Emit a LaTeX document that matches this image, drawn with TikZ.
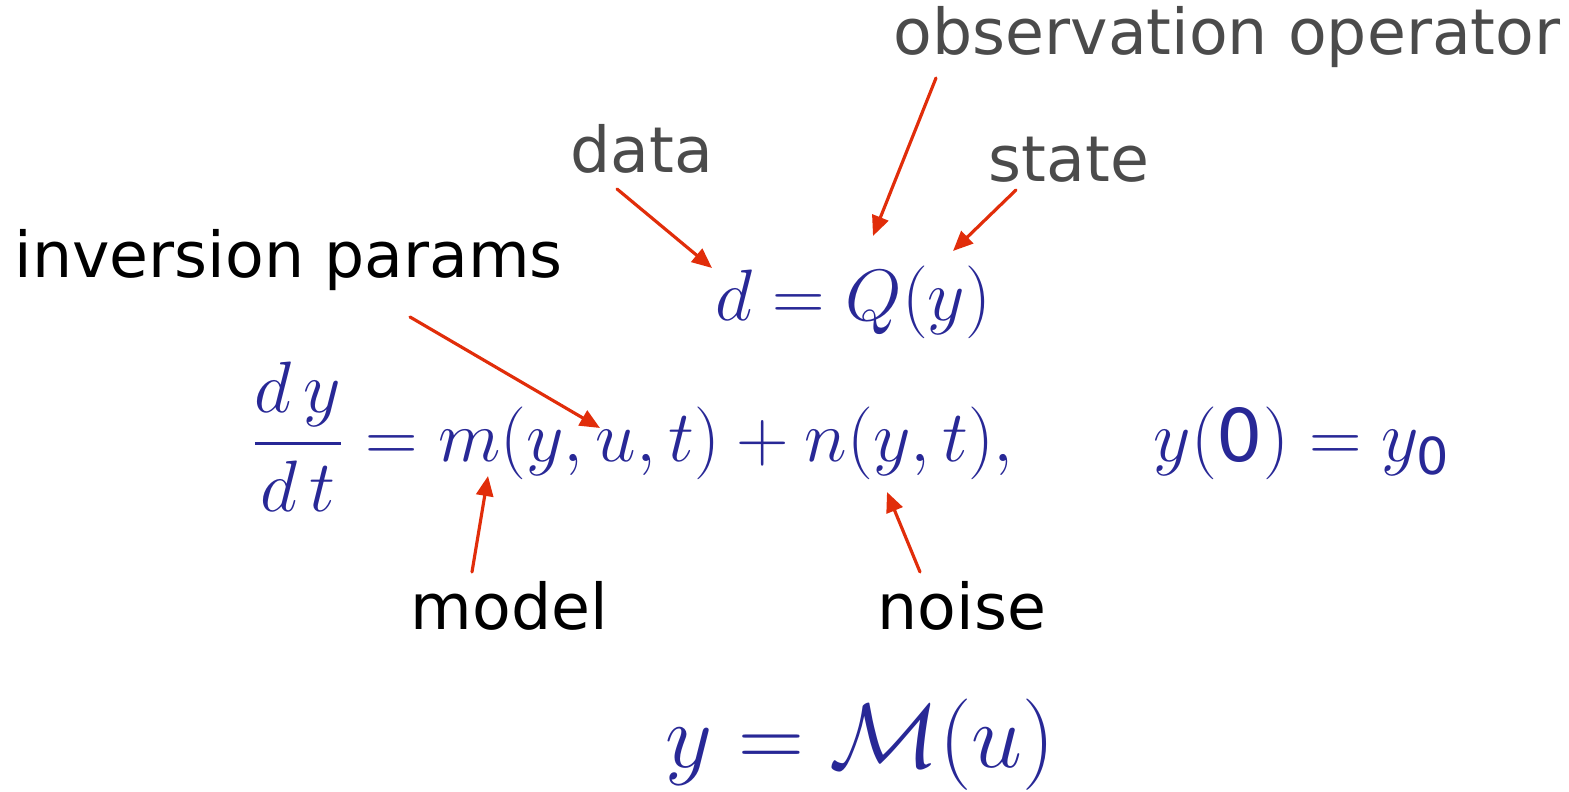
\RequirePackage{fix-cm}
\documentclass[tikz,border=0pt]{standalone}
\usepackage{amsmath}
\usepackage{fontspec}
\usetikzlibrary{arrows.meta}
\newfontfamily\labelfont{DejaVu Sans}
\definecolor{eqblue}{RGB}{40,40,150}
\definecolor{arrred}{RGB}{225,45,10}
\definecolor{labgray}{RGB}{75,75,75}
\tikzset{
  glabel/.style={font=\labelfont\fontsize{18}{22}\selectfont, text=labgray, inner sep=0pt},
  blabel/.style={font=\labelfont\fontsize{18}{22}\selectfont, text=black, inner sep=0pt},
  eqn/.style={font=\fontsize{20.7}{24}\selectfont, text=eqblue, inner sep=0pt},
  bigeqn/.style={font=\fontsize{26}{30}\selectfont, text=eqblue, inner sep=0pt},
  redarrow/.style={draw=arrred, line width=0.9pt, -{Triangle[length=0.2cm,width=0.17cm]}}
}
\begin{document}
\begin{tikzpicture}[x=0.01cm, y=-0.01cm, line join=round, line cap=round]
	\useasboundingbox (0,0) rectangle (1569,792);
	% --- Phương trình ---
	\node[eqn, anchor=base west] (obseq) at (715,321) {$d = Q(y)$};
	\node[eqn, anchor=base west] (modeleq) at (250,462) {$\dfrac{d\,y}{d\,t} = m(y,u,t) + n(y,t),$};
	\node[eqn, anchor=base west] (initeq) at (1153,462) {$y(\text{\labelfont 0}) = y_{\text{\labelfont 0}}$};
	\node[bigeqn, anchor=base west] (fwdeq) at (665,768) {$y = \mathcal{M}(u)$};
	% --- Nhãn ---
	\node[glabel, anchor=base west] (obsop) at (893,55) {observation operator};
	\node[glabel, anchor=base west] (data) at (570,173) {data};
	\node[glabel, anchor=base west] (state) at (988,182) {state};
	\node[blabel, anchor=base west] (inv) at (14,278) {inversion params};
	\node[blabel, anchor=base west] (model) at (410,630) {model};
	\node[blabel, anchor=base west] (noise) at (877,630) {noise};
	% --- Mũi tên ---
	\coordinate (dtip) at (712,268);
	\coordinate (qtip) at (873,236);
	\coordinate (ytip) at (953,251);
	\coordinate (utip) at (600,428);
	\coordinate (mtip) at (488,476);
	\coordinate (ntip) at (887,492);
	\draw[redarrow] ([shift={(47,16)}]data.base west) -- (dtip);
	\draw[redarrow] ([shift={(43,23)}]obsop.base west) -- (qtip);
	\draw[redarrow] ([shift={(28,8)}]state.base west) -- (ytip);
	\draw[redarrow] ([shift={(396,39)}]inv.base west) -- (utip);
	\draw[redarrow] ([shift={(62,-58)}]model.base west) -- (mtip);
	\draw[redarrow] ([shift={(43,-58)}]noise.base west) -- (ntip);
\end{tikzpicture}
\end{document}
